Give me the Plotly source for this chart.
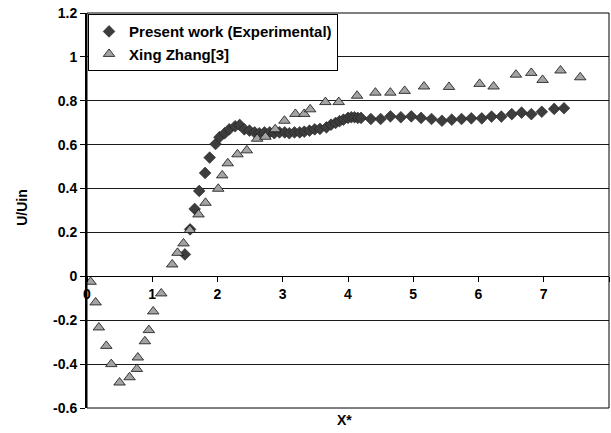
import plotly.graph_objects as go

# Present work (Experimental): axial position X* and normalised velocity U/Uin
present_x = [1.50, 1.58, 1.65, 1.72, 1.81, 1.88, 1.97, 2.03, 2.11, 2.18, 2.27, 2.34,
             2.41, 2.49, 2.57, 2.64, 2.72, 2.80, 2.87, 2.95, 3.03, 3.10, 3.18, 3.26,
             3.33, 3.41, 3.49, 3.57, 3.67, 3.74, 3.81, 3.87, 3.93, 4.00, 4.05, 4.10,
             4.15, 4.20, 4.35, 4.50, 4.65, 4.81, 4.97, 5.12, 5.28, 5.44, 5.59, 5.74,
             5.89, 6.05, 6.20, 6.35, 6.51, 6.66, 6.81, 6.97, 7.16, 7.31]
present_u = [0.100, 0.214, 0.307, 0.389, 0.471, 0.541, 0.603, 0.634, 0.652, 0.670, 0.684, 0.690,
             0.670, 0.664, 0.656, 0.652, 0.656, 0.656, 0.652, 0.656, 0.656, 0.652, 0.656, 0.656,
             0.659, 0.664, 0.670, 0.672, 0.679, 0.691, 0.699, 0.707, 0.714, 0.722, 0.725, 0.725,
             0.722, 0.722, 0.717, 0.717, 0.729, 0.725, 0.729, 0.722, 0.717, 0.709, 0.714, 0.717,
             0.720, 0.720, 0.728, 0.728, 0.739, 0.746, 0.739, 0.750, 0.763, 0.766]

# Xing Zhang [3]
zhang_x = [0.055, 0.132, 0.182, 0.296, 0.372, 0.499, 0.652, 0.764, 0.779, 0.887, 0.948, 1.015,
           1.138, 1.306, 1.387, 1.479, 1.576, 1.709, 1.816, 2.011, 2.072, 2.158, 2.306, 2.449,
           2.608, 2.735, 2.884, 3.026, 3.194, 3.328, 3.420, 3.654, 3.858, 4.139, 4.420, 4.649,
           4.868, 5.165, 5.548, 6.017, 6.231, 6.574, 6.809, 6.982, 7.257, 7.559]
zhang_u = [-0.025, -0.119, -0.233, -0.317, -0.400, -0.484, -0.460, -0.422, -0.370, -0.296, -0.245, -0.160,
           -0.078, 0.054, 0.107, 0.150, 0.211, 0.282, 0.335, 0.399, 0.460, 0.515, 0.556, 0.574,
           0.627, 0.636, 0.670, 0.709, 0.740, 0.740, 0.761, 0.794, 0.794, 0.823, 0.837, 0.837,
           0.845, 0.865, 0.863, 0.877, 0.865, 0.919, 0.927, 0.895, 0.938, 0.907]

x_ticks = [0, 1, 2, 3, 4, 5, 6, 7, 8]
y_ticks = [-0.6, -0.4, -0.2, 0, 0.2, 0.4, 0.6, 0.8, 1, 1.2]

FONT = "Liberation Sans, Arial, sans-serif"
tick_font = dict(family=FONT, size=14, color="black", weight="bold")
title_font = dict(family=FONT, size=14, color="black", weight="bold")
legend_font = dict(family=FONT, size=15, color="black", weight="bold")

fig = go.Figure()
fig.add_trace(go.Scatter(
    x=present_x, y=present_u, mode="markers", name="Present work (Experimental)",
    marker=dict(symbol="diamond", size=9, color="#3d3d3d",
                line=dict(color="#1e1e1e", width=0.6)),
))
fig.add_trace(go.Scatter(
    x=zhang_x, y=zhang_u, mode="markers", name="Xing Zhang[3]",
    marker=dict(symbol="triangle-up", size=10, color="#a3a3a3",
                line=dict(color="#111111", width=0.8)),
))

fig.update_layout(
    width=611, height=433,
    margin=dict(l=87, r=2, t=13, b=25),
    paper_bgcolor="white", plot_bgcolor="white",
    font=tick_font,
    showlegend=True,
    legend=dict(x=0.002, y=0.997, xanchor="left", yanchor="top",
                bgcolor="white", bordercolor="black", borderwidth=1,
                font=legend_font, tracegroupgap=0, itemsizing="trace"),
    xaxis=dict(
        range=[0, 8], tickvals=x_ticks, ticktext=[str(v) for v in x_ticks],
        anchor="free", position=1 / 3,
        showgrid=False, zeroline=False,
        showline=True, linecolor="black", linewidth=1,
        ticks="outside", ticklen=5, tickcolor="black", tickwidth=1,
        tickfont=tick_font,
    ),
    yaxis=dict(
        range=[-0.6, 1.2], tickvals=y_ticks,
        ticktext=[("%g" % v) for v in y_ticks],
        showgrid=True, gridcolor="#1a1a1a", gridwidth=1,
        zeroline=False,
        showline=True, linecolor="black", linewidth=2,
        ticks="outside", ticklen=5, tickcolor="black", tickwidth=1,
        tickfont=tick_font,
    ),
    shapes=[dict(type="rect", xref="paper", yref="paper", x0=0, x1=1, y0=0, y1=1,
                 line=dict(color="black", width=1), fillcolor="rgba(0,0,0,0)")],
    annotations=[
        dict(text="X*", xref="paper", yref="paper", x=0.493, y=-0.031,
             xanchor="center", yanchor="middle", showarrow=False, font=title_font),
        dict(text="U/Uin", xref="paper", yref="paper", x=-0.126, y=0.5075,
             xanchor="center", yanchor="middle", textangle=-90,
             showarrow=False, font=title_font),
    ],
)

fig.write_html("out.html")
